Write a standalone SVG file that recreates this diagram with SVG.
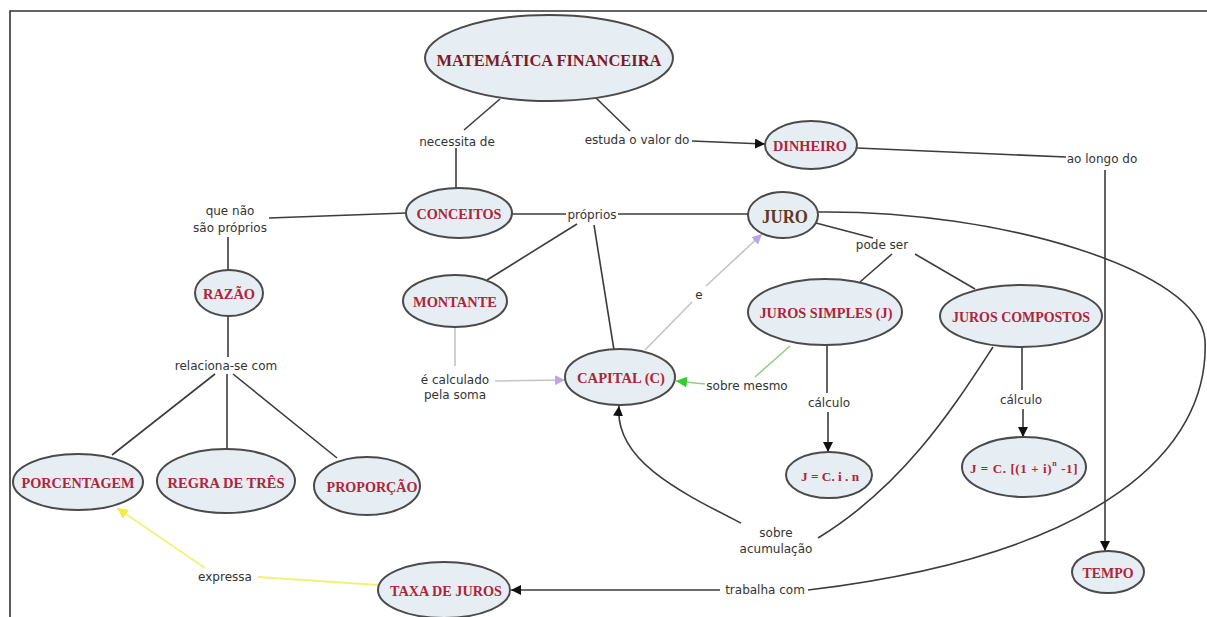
<svg xmlns="http://www.w3.org/2000/svg" width="1207" height="617" viewBox="0 0 1207 617">
  <defs>
    <style>
      .node ellipse { fill: #e7eef3; stroke: #4a4a4a; stroke-width: 2; }
      .node text { font-family: "Liberation Serif", "Times New Roman", serif; font-weight: bold; font-size: 15px; fill: #b0243a; text-anchor: middle; dominant-baseline: central; }
      .lbl { font-family: "DejaVu Sans", "Liberation Sans", sans-serif; font-size: 12px; fill: #333; text-anchor: middle; dominant-baseline: central; }
      .ln { fill: none; stroke: #3c3c3c; stroke-width: 1.6; }
      .lt { fill: none; stroke: #c4c4c4; stroke-width: 1.6; }
      .gr { fill: none; stroke: #8fd07f; stroke-width: 1.6; }
      .yl { fill: none; stroke: #f2f27a; stroke-width: 1.8; }
    </style>
    <marker id="ahBlack" viewBox="0 0 10 10" refX="10" refY="5" markerWidth="10" markerHeight="10" markerUnits="userSpaceOnUse" orient="auto">
      <path d="M0,0 L10,5 L0,10 z" fill="#111"/>
    </marker>
    <marker id="ahLav" viewBox="0 0 10 10" refX="10" refY="5" markerWidth="10" markerHeight="10" markerUnits="userSpaceOnUse" orient="auto">
      <path d="M0,0 L10,5 L0,10 z" fill="#b9a6e6"/>
    </marker>
    <marker id="ahGreen" viewBox="0 0 10 10" refX="10" refY="5" markerWidth="11" markerHeight="11" markerUnits="userSpaceOnUse" orient="auto">
      <path d="M0,0 L10,5 L0,10 z" fill="#33cc33"/>
    </marker>
    <marker id="ahYellow" viewBox="0 0 10 10" refX="10" refY="5" markerWidth="11" markerHeight="11" markerUnits="userSpaceOnUse" orient="auto">
      <path d="M0,0 L10,5 L0,10 z" fill="#eeee44"/>
    </marker>
  </defs>

  <rect x="0" y="0" width="1207" height="617" fill="#ffffff"/>
  <!-- frame -->
  <path d="M10,617 L10,11 L1207,11" fill="none" stroke="#333" stroke-width="1.6"/>

  <g id="connectors">
    <!-- MATEMÁTICA FINANCEIRA -> CONCEITOS -->
    <path class="ln" d="M500,99 L464,130"/>
    <path class="ln" d="M456,148 L456,188"/>
    <!-- MATEMÁTICA FINANCEIRA -> DINHEIRO -->
    <path class="ln" d="M596,98 L630,131"/>
    <path class="ln" d="M692,141 L765,144" marker-end="url(#ahBlack)"/>
    <!-- DINHEIRO -> TEMPO -->
    <path class="ln" d="M857,148 L1066,157"/>
    <path class="ln" d="M1105,170 L1105,551" marker-end="url(#ahBlack)"/>
    <!-- CONCEITOS -> RAZÃO -->
    <path class="ln" d="M406,213 L269,218"/>
    <path class="ln" d="M228,237 L228,270"/>
    <!-- CONCEITOS próprios -->
    <path class="ln" d="M512,214 L566,214"/>
    <path class="ln" d="M618,214 L748,214"/>
    <path class="ln" d="M577,224 L487,280"/>
    <path class="ln" d="M594,225 L614,350"/>
    <!-- RAZÃO -> relaciona-se com -->
    <path class="ln" d="M228,316 L228,357"/>
    <path class="ln" d="M215,374 L112,455"/>
    <path class="ln" d="M227,374 L227,449"/>
    <path class="ln" d="M233,374 L337,458"/>
    <!-- JURO -> pode ser -->
    <path class="ln" d="M816,223 L873,238"/>
    <path class="ln" d="M892,254 L860,282"/>
    <path class="ln" d="M915,254 L975,289"/>
    <!-- cálculo -->
    <path class="ln" d="M827,345 L827,393"/>
    <path class="ln" d="M828,412 L828,452" marker-end="url(#ahBlack)"/>
    <path class="ln" d="M1022,347 L1022,390"/>
    <path class="ln" d="M1023,409 L1023,437" marker-end="url(#ahBlack)"/>
    <!-- MONTANTE -> CAPITAL -->
    <path class="lt" d="M455,327 L455,366"/>
    <path class="lt" d="M495,381 L565,380" marker-end="url(#ahLav)"/>
    <!-- CAPITAL -> JURO -->
    <path class="lt" d="M645,350 L692,302"/>
    <path class="lt" d="M706,286 L762,234" marker-end="url(#ahLav)"/>
    <!-- JUROS SIMPLES -> CAPITAL -->
    <path class="gr" d="M790,346 L755,377"/>
    <path class="gr" d="M705,384 L676,381" marker-end="url(#ahGreen)"/>
    <!-- JUROS COMPOSTOS -> CAPITAL -->
    <path class="ln" d="M993,347 C955,405 905,485 818,538"/>
    <path class="ln" d="M741,523 C680,492 614,460 619,406" marker-end="url(#ahBlack)"/>
    <!-- JURO -> TAXA DE JUROS -->
    <path class="ln" d="M818,212 C1000,210 1200,270 1205,340 C1210,450 1100,555 808,590"/>
    <path class="ln" d="M720,590 L511,590" marker-end="url(#ahBlack)"/>
    <!-- TAXA DE JUROS -> PORCENTAGEM -->
    <path class="yl" d="M378,585 L258,577"/>
    <path class="yl" d="M205,568 L117,508" marker-end="url(#ahYellow)"/>
  </g>

  <g id="labels">
    <text class="lbl" x="457" y="142">necessita de</text>
    <text class="lbl" x="637" y="140">estuda o valor do</text>
    <text class="lbl" x="1102" y="159">ao longo do</text>
    <text class="lbl" x="230" y="211">que não</text>
    <text class="lbl" x="230" y="228">são próprios</text>
    <text class="lbl" x="592" y="215">próprios</text>
    <text class="lbl" x="882" y="245">pode ser</text>
    <text class="lbl" x="226" y="366">relaciona-se com</text>
    <text class="lbl" x="699" y="295">e</text>
    <text class="lbl" x="455" y="380">é calculado</text>
    <text class="lbl" x="455" y="395">pela soma</text>
    <text class="lbl" x="747" y="386">sobre mesmo</text>
    <text class="lbl" x="829" y="403">cálculo</text>
    <text class="lbl" x="1021" y="400">cálculo</text>
    <text class="lbl" x="776" y="533">sobre</text>
    <text class="lbl" x="776" y="549">acumulação</text>
    <text class="lbl" x="765" y="590">trabalha com</text>
    <text class="lbl" x="225" y="577">expressa</text>
  </g>

  <g id="n-matematica" class="node">
    <ellipse cx="549" cy="58" rx="124" ry="43"/>
    <text x="549" y="60" textLength="225" lengthAdjust="spacingAndGlyphs" style="font-size:17px;fill:#7a1c2c">MATEMÁTICA FINANCEIRA</text>
  </g>
  <g id="n-dinheiro" class="node">
    <ellipse cx="811" cy="145" rx="46" ry="24"/>
    <text x="810" y="146" textLength="74" lengthAdjust="spacingAndGlyphs">DINHEIRO</text>
  </g>
  <g id="n-conceitos" class="node">
    <ellipse cx="459" cy="213" rx="53" ry="25"/>
    <text x="459" y="214" textLength="85" lengthAdjust="spacingAndGlyphs">CONCEITOS</text>
  </g>
  <g id="n-juro" class="node">
    <ellipse cx="783" cy="215" rx="35" ry="23"/>
    <text x="785" y="216" textLength="46" lengthAdjust="spacingAndGlyphs" style="font-size:19px;fill:#5e3a1e">JURO</text>
  </g>
  <g id="n-razao" class="node">
    <ellipse cx="229" cy="293" rx="34" ry="23"/>
    <text x="229" y="294" textLength="52" lengthAdjust="spacingAndGlyphs">RAZÃO</text>
  </g>
  <g id="n-montante" class="node">
    <ellipse cx="455" cy="301" rx="52" ry="26"/>
    <text x="455" y="302" textLength="84" lengthAdjust="spacingAndGlyphs">MONTANTE</text>
  </g>
  <g id="n-capital" class="node">
    <ellipse cx="620" cy="377" rx="55" ry="28"/>
    <text x="621" y="378" textLength="88" lengthAdjust="spacingAndGlyphs">CAPITAL (C)</text>
  </g>
  <g id="n-juros-simples" class="node">
    <ellipse cx="825" cy="312" rx="77" ry="33"/>
    <text x="826" y="313" textLength="133" lengthAdjust="spacingAndGlyphs">JUROS SIMPLES (J)</text>
  </g>
  <g id="n-juros-compostos" class="node">
    <ellipse cx="1021" cy="316" rx="81" ry="31"/>
    <text x="1021" y="317" textLength="138" lengthAdjust="spacingAndGlyphs">JUROS COMPOSTOS</text>
  </g>
  <g id="n-formula-simples" class="node">
    <ellipse cx="829" cy="475" rx="43" ry="23"/>
    <text x="830" y="476" textLength="58" lengthAdjust="spacingAndGlyphs" style="font-size:13px">J = C. i . n</text>
  </g>
  <g id="n-formula-compostos" class="node">
    <ellipse cx="1024" cy="467" rx="62" ry="30"/>
    <text x="1024" y="468" style="font-size:13px;letter-spacing:0.6px">J = C. [(1 + i)<tspan baseline-shift="super" style="font-size:8px">n</tspan> -1]</text>
  </g>
  <g id="n-tempo" class="node">
    <ellipse cx="1108" cy="572" rx="36" ry="21"/>
    <text x="1108" y="573" textLength="51" lengthAdjust="spacingAndGlyphs">TEMPO</text>
  </g>
  <g id="n-porcentagem" class="node">
    <ellipse cx="78" cy="482" rx="65" ry="28"/>
    <text x="78" y="483" textLength="113" lengthAdjust="spacingAndGlyphs">PORCENTAGEM</text>
  </g>
  <g id="n-regra" class="node">
    <ellipse cx="226" cy="481" rx="69" ry="32"/>
    <text x="226" y="483" textLength="117" lengthAdjust="spacingAndGlyphs">REGRA DE TRÊS</text>
  </g>
  <g id="n-proporcao" class="node">
    <ellipse cx="367" cy="486" rx="53" ry="29"/>
    <text x="372" y="487" textLength="91" lengthAdjust="spacingAndGlyphs">PROPORÇÃO</text>
  </g>
  <g id="n-taxa" class="node">
    <ellipse cx="444" cy="590" rx="66" ry="28"/>
    <text x="446" y="591" textLength="112" lengthAdjust="spacingAndGlyphs">TAXA DE JUROS</text>
  </g>
</svg>
